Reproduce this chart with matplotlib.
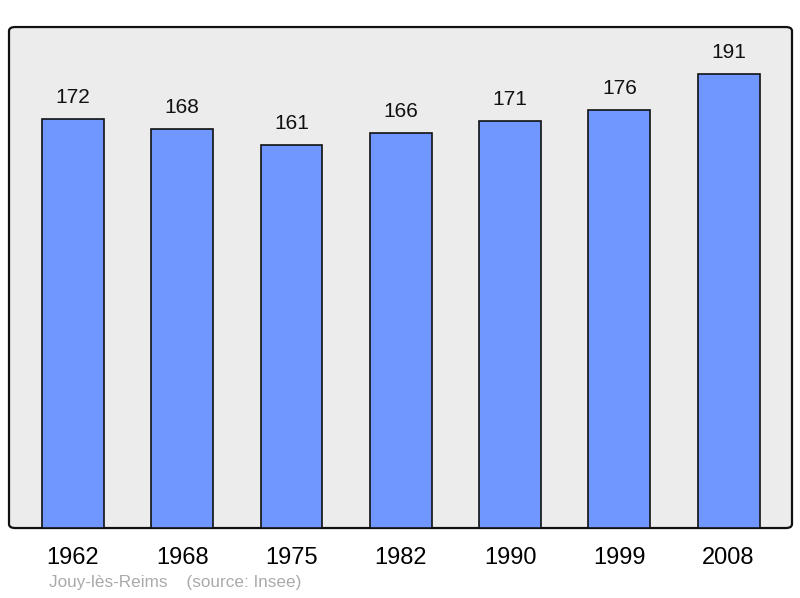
import matplotlib.pyplot as plt
from matplotlib.patches import FancyBboxPatch

plt.rcParams['font.family'] = ['Liberation Sans', 'DejaVu Sans']

# 数据
years = ['1962', '1968', '1975', '1982', '1990', '1999', '2008']
population = [172, 168, 161, 166, 171, 176, 191]

fig = plt.figure(figsize=(8, 5.98), dpi=100)
ax = fig.add_axes([0.01125, 0.117, 0.97875, 0.8378])
ax.set_facecolor('none')

# 圆角背景框
frame = FancyBboxPatch((0, 0), 1, 1, boxstyle='round,pad=0,rounding_size=0.008',
                       transform=ax.transAxes, facecolor='#ececec', edgecolor='#111111',
                       linewidth=1.6, zorder=0, clip_on=False)
ax.add_patch(frame)

x = list(range(len(years)))
bars = ax.bar(x, population, width=0.567, color='#7096ff', edgecolor='#111111',
              linewidth=1.2, zorder=2)

for xi, v in zip(x, population):
    ax.annotate(str(v), (xi, v), xytext=(0, 15.5), textcoords='offset points',
                ha='center', va='center', fontsize=15, color='#111111')

ax.set_xlim(-0.585, 6.58)
ax.set_ylim(0, 210.7)
ax.set_xticks(x)
ax.set_xticklabels(years, fontsize=17)
ax.tick_params(axis='x', length=0, pad=14)
ax.set_yticks([])
for s in ax.spines.values():
    s.set_visible(False)

fig.text(49 / 800, 1 - 583 / 598, 'Jouy-lès-Reims    (source: Insee)',
         fontsize=12.3, color='#aaaaaa', ha='left', va='center')

fig.savefig('out.png', dpi=100)
